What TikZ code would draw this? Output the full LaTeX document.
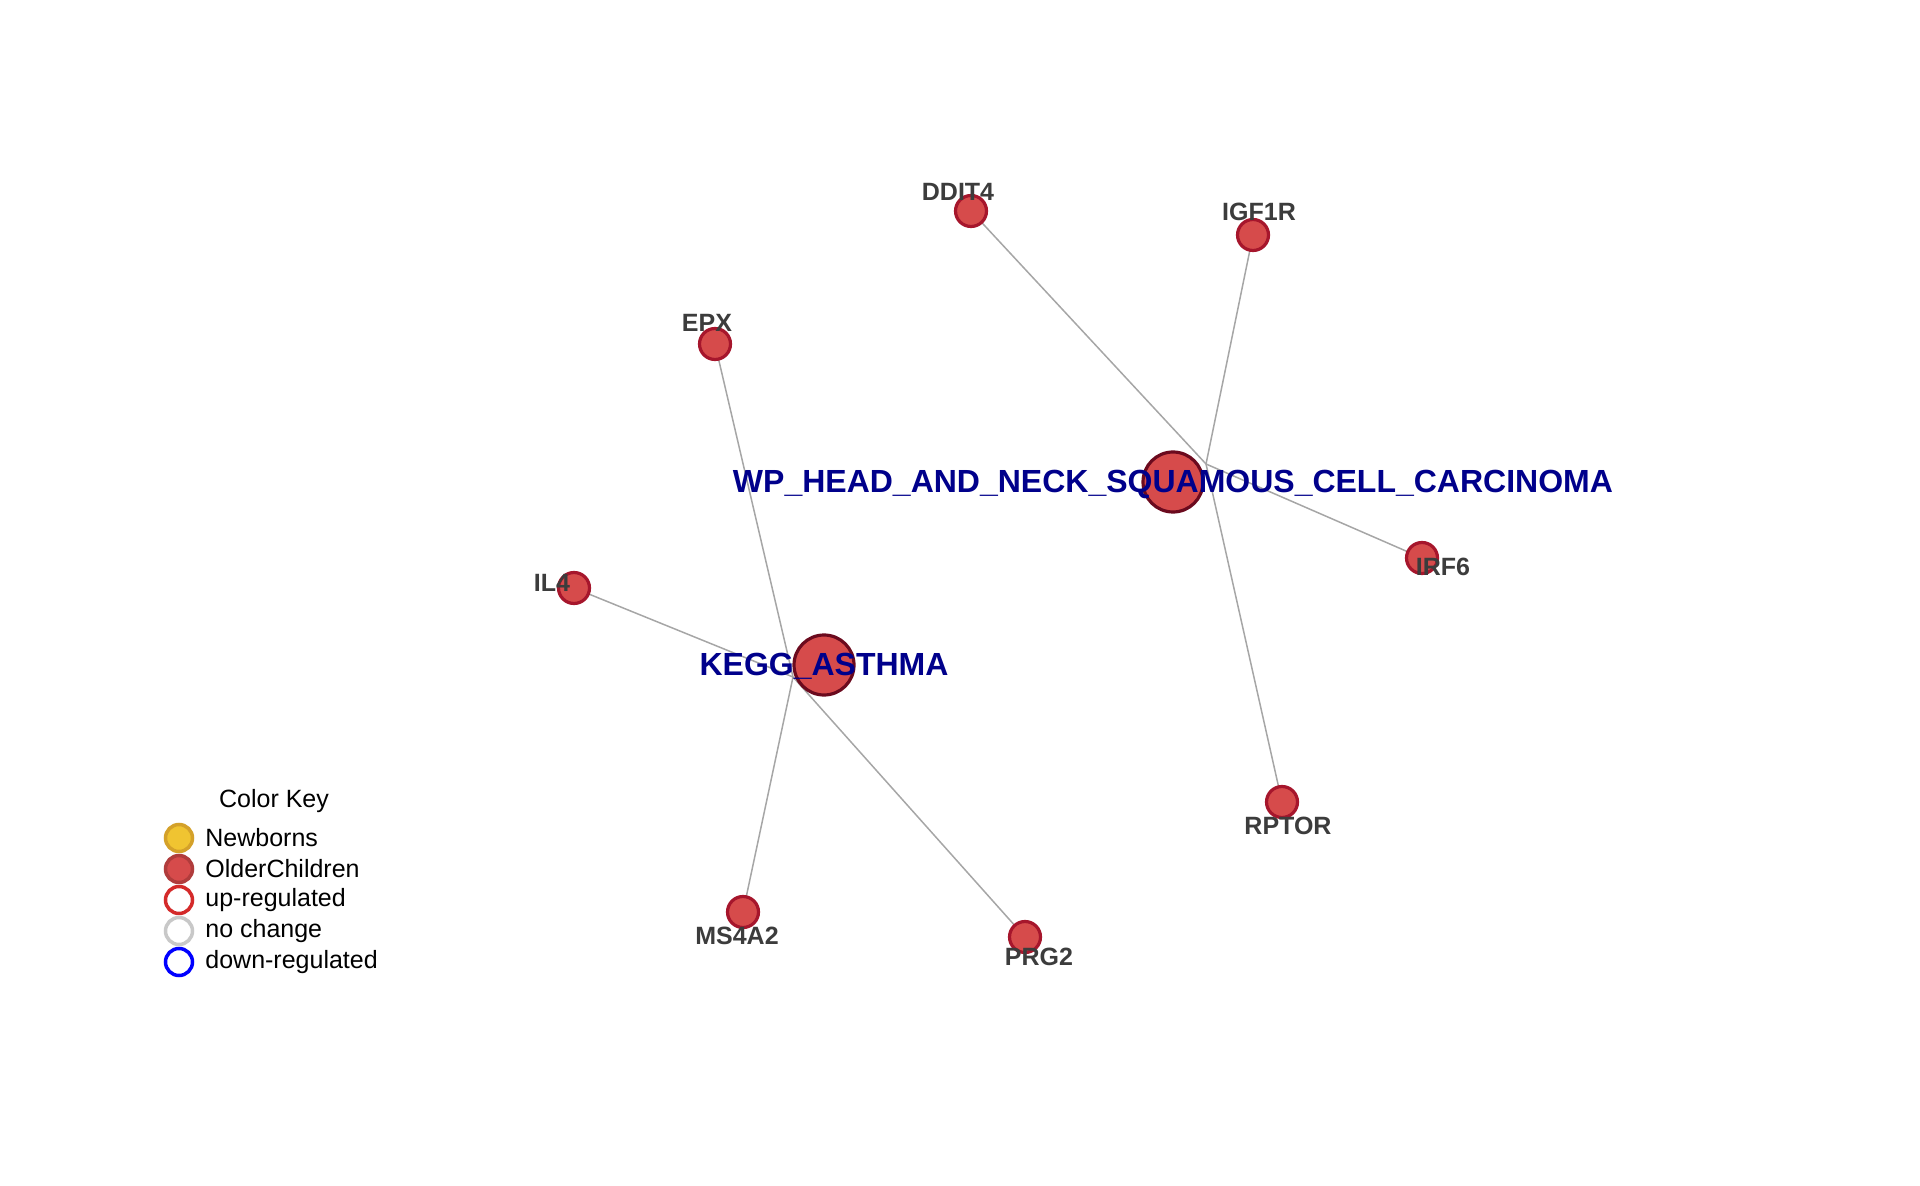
\documentclass[tikz,border=0pt]{standalone}
\usepackage{fontspec}
\setmainfont{Liberation Sans}
\usetikzlibrary{backgrounds}
\definecolor{nodefill}{HTML}{D64B4B}
\definecolor{leafborder}{HTML}{A6162C}
\definecolor{hubborder}{HTML}{6B0A1E}
\definecolor{hubtext}{HTML}{00008B}
\definecolor{leaftext}{HTML}{3C3C3C}
\definecolor{edgegray}{HTML}{A6A6A6}
\definecolor{nbfill}{HTML}{F0C431}
\definecolor{nbborder}{HTML}{D4A12A}
\definecolor{ocborder}{HTML}{B03C3C}
\definecolor{upred}{HTML}{D42A2A}
\definecolor{nochange}{HTML}{C8C8C8}
\begin{document}
\begin{tikzpicture}[x=0.5pt,y=-0.5pt,
  leaf/.style={circle,inner sep=0pt,minimum size=15.5pt,fill=nodefill,draw=leafborder,line width=1.6pt},
  hub/.style={circle,inner sep=0pt,minimum size=30pt,fill=nodefill,draw=hubborder,line width=1.6pt},
  leaflabel/.style={font=\bfseries\fontsize{12.5}{14}\selectfont,text=leaftext,inner sep=0pt},
  hublabel/.style={font=\bfseries\fontsize{16}{18}\selectfont,text=hubtext,inner sep=0pt},
  edge/.style={draw=edgegray,line width=0.75pt},
  keycirc/.style={circle,inner sep=0pt,minimum size=13.5pt,line width=1.75pt},
  keytext/.style={font=\fontsize{12.5}{14}\selectfont,anchor=west,inner sep=0pt}]
\useasboundingbox (0,0) rectangle (1920,1186);

% hubs
\node[hub] (wp) at (1173,482) {};
\node[hub] (kegg) at (824,665) {};
\coordinate (wpc) at (1206,464);
\coordinate (keggc) at (793,677);

% leaves
\node[leaf] (ddit4) at (971,211) {};
\node[leaf] (igf1r) at (1253,235) {};
\node[leaf] (irf6) at (1422,558) {};
\node[leaf] (rptor) at (1282,802) {};
\node[leaf] (epx) at (715,344) {};
\node[leaf] (il4) at (574,588) {};
\node[leaf] (ms4a2) at (743,912) {};
\node[leaf] (prg2) at (1025,937) {};

% edges
\begin{scope}[on background layer]
\draw[edge] (wpc) -- (ddit4.center);
\draw[edge] (wpc) -- (igf1r.center);
\draw[edge] (wpc) -- (irf6.center);
\draw[edge] (wpc) -- (rptor.center);
\draw[edge] (keggc) -- (epx.center);
\draw[edge] (keggc) -- (il4.center);
\draw[edge] (keggc) -- (ms4a2.center);
\draw[edge] (keggc) -- (prg2.center);
\end{scope}

% labels
\node[hublabel] (wpl) at (1173,484) {WP\_HEAD\_AND\_NECK\_SQUAMOUS\_CELL\_CARCINOMA};
\node[hublabel] (keggl) at (824,666) {KEGG\_ASTHMA};
\node[leaflabel] (ddit4l) at (958,192) {DDIT4};
\node[leaflabel] (igf1rl) at (1259,212) {IGF1R};
\node[leaflabel] (irf6l) at (1443,567) {IRF6};
\node[leaflabel] (rptorl) at (1288,826) {RPTOR};
\node[leaflabel] (epxl) at (707,323) {EPX};
\node[leaflabel] (il4l) at (552,583) {IL4};
\node[leaflabel] (ms4a2l) at (737,936) {MS4A2};
\node[leaflabel] (prg2l) at (1039,957) {PRG2};

% legend
\node[font=\fontsize{12.5}{14}\selectfont,inner sep=0pt] (keytitle) at (274,801) {Color Key};
\node[keycirc,fill=nbfill,draw=nbborder] (k1) at (179,838) {};
\node[keycirc,fill=nodefill,draw=ocborder] (k2) at (179,869) {};
\node[keycirc,fill=white,draw=upred] (k3) at (179,900) {};
\node[keycirc,fill=white,draw=nochange] (k4) at (179,931) {};
\node[keycirc,fill=white,draw=blue] (k5) at (179,962) {};
\node[keytext] (t1) at (205,838) {Newborns};
\node[keytext] (t2) at (205,869) {OlderChildren};
\node[keytext] (t3) at (205,900) {up-regulated};
\node[keytext] (t4) at (205,931) {no change};
\node[keytext] (t5) at (205,962) {down-regulated};
\end{tikzpicture}
\end{document}
